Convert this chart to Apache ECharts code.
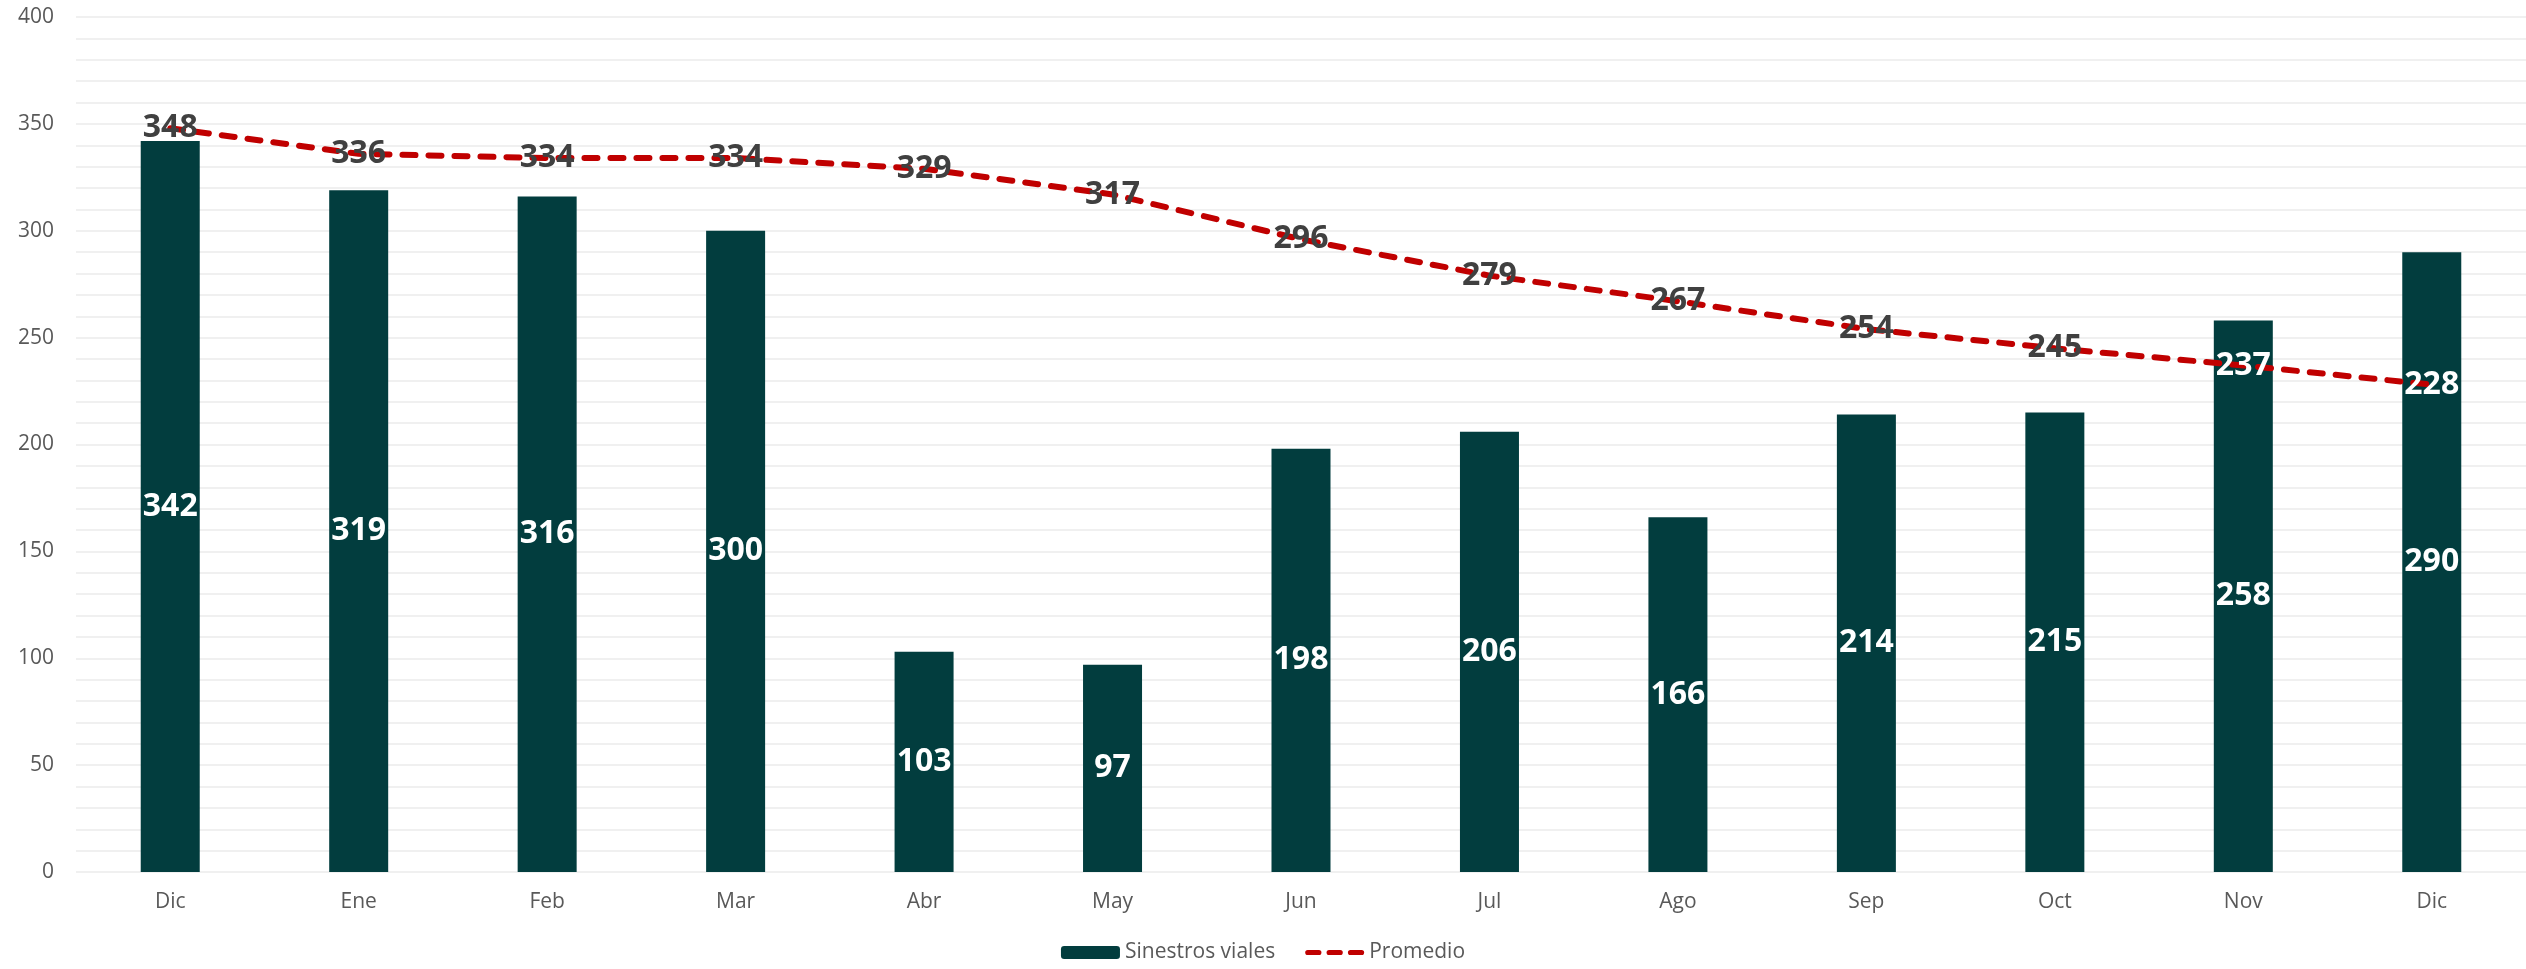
<!DOCTYPE html>
<html>
<head>
<meta charset="utf-8">
<script src="https://cdn.jsdelivr.net/npm/echarts@6/dist/echarts.min.js"></script>
<style>
  html, body { margin: 0; padding: 0; background: #fff; }
  #chart { width: 2526px; height: 969px; }
</style>
</head>
<body>
<div id="chart"></div>
<script>
// months on the x axis
const months = ["Dic", "Ene", "Feb", "Mar", "Abr", "May", "Jun", "Jul", "Ago", "Sep", "Oct", "Nov", "Dic"];
// monthly road accidents (bars)
const sinestros = [342, 319, 316, 300, 103, 97, 198, 206, 166, 214, 215, 258, 290];
// running average (dashed line)
const promedio = [348, 336, 334, 334, 329, 317, 296, 279, 267, 254, 245, 237, 228];

const chart = echarts.init(document.getElementById("chart"));

const font = "'Open Sans', 'Noto Sans', sans-serif";

// line labels sitting on top of a bar are drawn white, like Excel does
const promedioData = promedio.map((v, i) => ({
  value: v,
  label: { color: sinestros[i] > v ? "#ffffff" : "#404040" }
}));

const dashIcon = "path://M2.5,0h11a2.5,2.5 0 0 1 0,5h-11a2.5,2.5 0 0 1 0,-5z" +
  "M23.5,0h11a2.5,2.5 0 0 1 0,5h-11a2.5,2.5 0 0 1 0,-5z" +
  "M44.5,0h11a2.5,2.5 0 0 1 0,5h-11a2.5,2.5 0 0 1 0,-5z";

const option = {
  animation: false,
  backgroundColor: "#fff",
  grid: { left: 76, right: 0, top: 17, bottom: 97 },
  legend: {
    bottom: 1,
    left: "center",
    itemWidth: 59,
    itemHeight: 13,
    itemGap: 30,
    textStyle: { fontFamily: font, fontSize: 21, color: "#595959" },
    data: ["Sinestros viales", { name: "Promedio", icon: dashIcon, itemStyle: { color: "#c00000" } }]
  },
  xAxis: {
    type: "category",
    data: months,
    axisLine: { show: false },
    axisTick: { show: false },
    axisLabel: { fontFamily: font, fontSize: 21, color: "#595959", margin: 20 }
  },
  yAxis: [
    {
      type: "value",
      min: 0,
      max: 400,
      interval: 50,
      axisLine: { show: false },
      axisTick: { show: false },
      axisLabel: { fontFamily: font, fontSize: 21, color: "#595959", margin: 22 },
      splitLine: { lineStyle: { color: "#d9d9d9", width: 2 } }
    },
    {
      // minor gridlines every 10
      type: "value",
      min: 0,
      max: 400,
      interval: 10,
      axisLine: { show: false },
      axisTick: { show: false },
      axisLabel: { show: false },
      splitLine: { lineStyle: { color: "#f0f0f0", width: 2 } },
      z: 0
    }
  ],
  series: [
    {
      name: "Sinestros viales",
      type: "bar",
      data: sinestros,
      barWidth: 59,
      itemStyle: { color: "#023d3e" },
      label: {
        show: true,
        position: "inside",
        color: "#ffffff",
        fontFamily: font,
        fontWeight: "bold",
        fontSize: 32
      },
      z: 2
    },
    {
      name: "Promedio",
      type: "line",
      data: promedioData,
      symbol: "circle",
      symbolSize: 0.01,
      lineStyle: { color: "#c00000", width: 6, type: [13, 13], cap: "round" },
      itemStyle: { color: "#c00000" },
      label: {
        show: true,
        position: "inside",
        fontFamily: font,
        fontWeight: "bold",
        fontSize: 32,
        textBorderWidth: 0
      },
      z: 3
    }
  ]
};

chart.setOption(option);
</script>
</body>
</html>
